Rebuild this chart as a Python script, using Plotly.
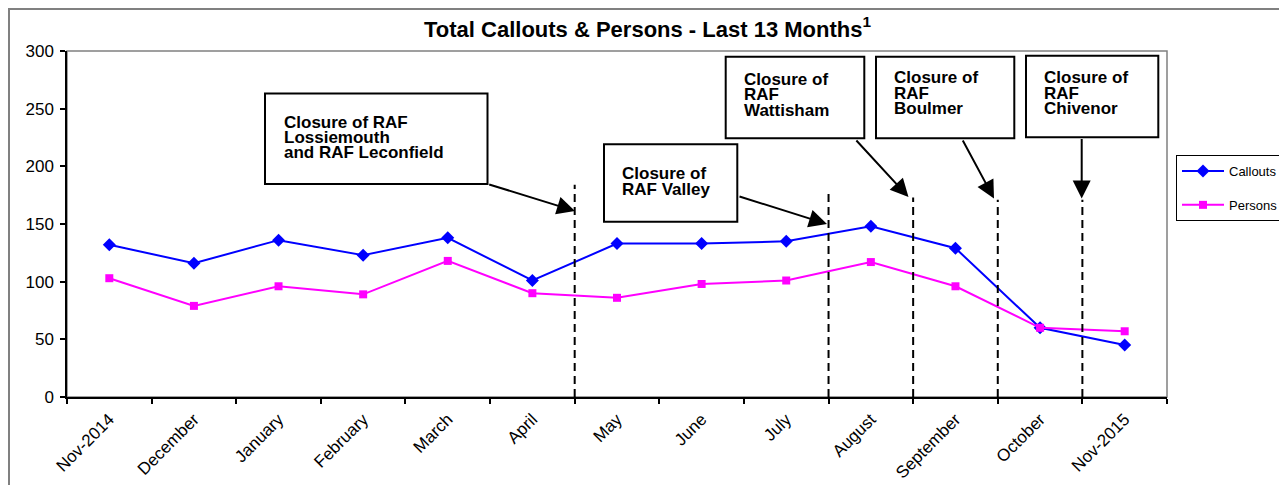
import plotly.graph_objects as go

# ---------------- data ----------------
months = ["Nov-2014", "December", "January", "February", "March", "April", "May",
          "June", "July", "August", "September", "October", "Nov-2015"]
callouts = [132, 116, 136, 123, 138, 101, 133, 133, 135, 148, 129, 60, 45]
persons = [103, 79, 96, 89, 118, 90, 86, 98, 101, 117, 96, 60, 57]

closure_labels = [
    ["Closure of RAF", "Lossiemouth", "and RAF Leconfield"],
    ["Closure of", "RAF Valley"],
    ["Closure of", "RAF", "Wattisham"],
    ["Closure of", "RAF", "Boulmer"],
    ["Closure of", "RAF", "Chivenor"],
]
closure_positions = [5.5, 8.5, 9.5, 10.5, 11.5]   # category boundaries
closure_line_tops = [184, 180, 173, 171, 171]

title_text = "Total Callouts & Persons - Last 13 Months<sup>1</sup>"

# ---------------- layout geometry (page pixels) ----------------
PAGE_OFF = 8                 # default body margin of the html page
FW, FH = 1287 - PAGE_OFF, 485 - PAGE_OFF
L, T, W, H = 67, 51, 1100, 346   # plot area in page pixels
FONT = "Liberation Sans, Arial, sans-serif"


def px(x):
    return (x - L) / W


def py(y):
    return (T + H - y) / H


boxes = [
    dict(rect=(265, 93.5, 487.5, 184), tx=282.5, base=127.7, step=15.3),
    dict(rect=(604, 144.3, 737.3, 221.7), tx=620.7, base=179.3, step=15.5),
    dict(rect=(725.7, 56.7, 864.3, 138.3), tx=742.7, base=85.0, step=15.4),
    dict(rect=(876, 56.7, 1014.3, 138.3), tx=892.7, base=83.3, step=15.4),
    dict(rect=(1026, 55.7, 1158.3, 137.3), tx=1042.7, base=83.3, step=15.4),
]
arrows = [
    ((487.7, 184), (575, 211)),
    ((738, 196), (827, 224)),
    ((855, 139), (908.5, 197)),
    ((962, 139), (994, 198.5)),
    ((1081.7, 137.5), (1081.7, 198.5)),
]

fig = go.Figure()
fig.add_trace(go.Scatter(
    x=months, y=callouts, name="Callouts", mode="lines+markers",
    line=dict(color="#0000FF", width=2),
    marker=dict(symbol="diamond", size=10, color="#0000FF"),
    legendgroup="a",
))
fig.add_trace(go.Scatter(
    x=months, y=persons, name="Persons", mode="lines+markers",
    line=dict(color="#FF00FF", width=2),
    marker=dict(symbol="square", size=8, color="#FF00FF"),
    legendgroup="b",
))

shapes = []
# outer chart border
shapes.append(dict(type="rect", xref="paper", yref="paper",
                   x0=px(PAGE_OFF + 1), x1=px(1400), y0=py(600), y1=py(PAGE_OFF + 1),
                   line=dict(color="#808080", width=2), fillcolor="rgba(0,0,0,0)",
                   layer="below"))
# plot area border (top/right gray)
shapes.append(dict(type="rect", xref="paper", yref="paper",
                   x0=0, x1=1, y0=0, y1=1,
                   line=dict(color="#808080", width=1.5), fillcolor="rgba(0,0,0,0)",
                   layer="below"))
# dashed closure lines
for xpos, top in zip(closure_positions, closure_line_tops):
    shapes.append(dict(type="line", xref="x", yref="y", x0=xpos, x1=xpos, y0=0, y1=top,
                       line=dict(color="black", width=2, dash="8px,5px")))
# annotation boxes
for b in boxes:
    x0, y0, x1, y1 = b["rect"]
    shapes.append(dict(type="rect", xref="paper", yref="paper",
                       x0=px(x0), x1=px(x1), y0=py(y1), y1=py(y0),
                       line=dict(color="black", width=2), fillcolor="white"))

annotations = []
for b, lines in zip(boxes, closure_labels):
    for i, txt in enumerate(lines):
        base = b["base"] + i * b["step"]
        annotations.append(dict(
            xref="paper", yref="paper", x=px(b["tx"]), y=py(base - 5.5),
            xanchor="left", yanchor="middle", text="<b>%s</b>" % txt,
            showarrow=False, font=dict(family=FONT, size=17, color="black"),
            borderpad=0,
        ))
for (tx, ty), (hx, hy) in arrows:
    annotations.append(dict(
        xref="paper", yref="paper", x=px(hx), y=py(hy), text="",
        showarrow=True, axref="pixel", ayref="pixel", ax=tx - hx, ay=ty - hy,
        arrowhead=2, arrowsize=1.8, arrowwidth=2, arrowcolor="black", standoff=0,
    ))

fig.update_layout(
    width=FW, height=FH,
    margin=dict(l=L - PAGE_OFF, r=FW - (L - PAGE_OFF) - W, t=T - PAGE_OFF,
                b=FH - (T - PAGE_OFF) - H, autoexpand=False),
    paper_bgcolor="white", plot_bgcolor="white",
    font=dict(family=FONT, color="black"),
    title=dict(text="<b>%s</b>" % title_text, x=0.5, xanchor="center",
               y=1 - (29 - PAGE_OFF) / FH, yanchor="middle",
               font=dict(family=FONT, size=22, color="black")),
    xaxis=dict(type="category", categoryorder="array", categoryarray=months,
               range=[-0.5, 12.5], tickson="boundaries", ticks="outside", ticklen=5,
               tickcolor="black", tickwidth=1.5, showline=True, linecolor="black",
               linewidth=1.5, showgrid=False, tickangle=-45, ticklabelstandoff=4,
               tickfont=dict(family=FONT, size=17, color="black")),
    yaxis=dict(range=[0, 300], dtick=50, ticks="outside", ticklen=5, tickcolor="black",
               tickwidth=1.5, showline=True, linecolor="black", linewidth=1.5,
               showgrid=False, zeroline=False, ticklabelstandoff=3,
               tickfont=dict(family=FONT, size=17, color="black")),
    legend=dict(x=px(1176), y=py(155), xanchor="left", yanchor="top",
                bordercolor="black", borderwidth=1, bgcolor="white", itemwidth=42,
                tracegroupgap=14, font=dict(family=FONT, size=13, color="black")),
    shapes=shapes,
    annotations=annotations,
)

fig.write_html("out.html")
